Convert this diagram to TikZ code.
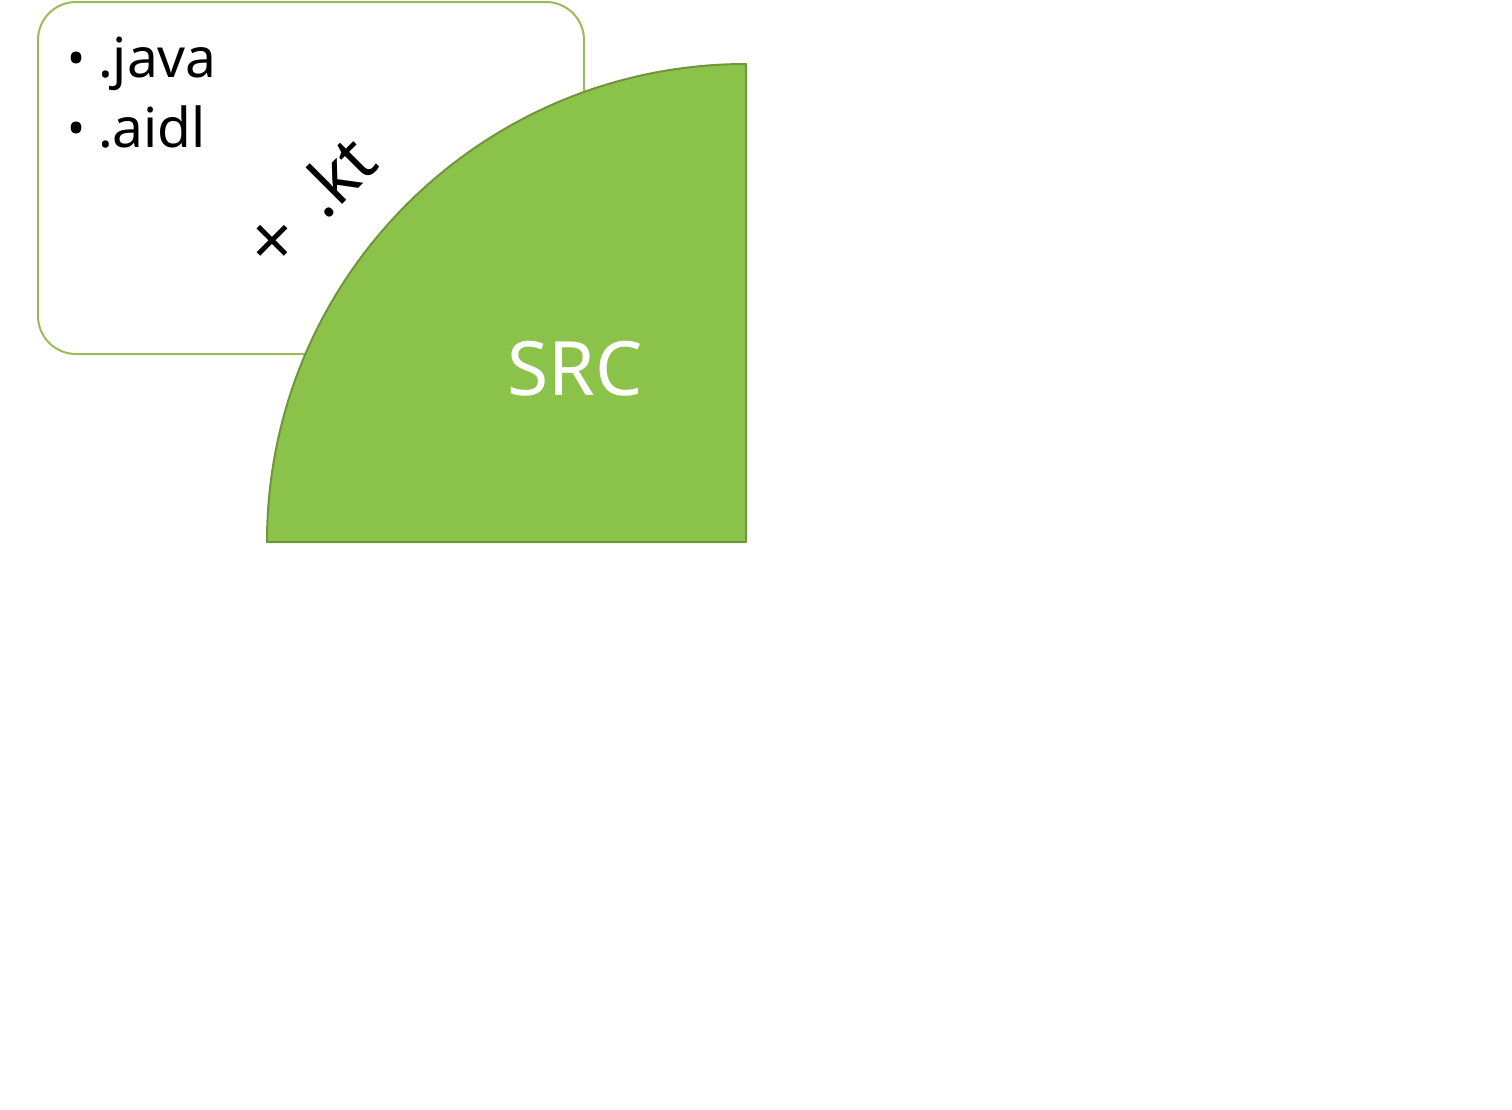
\documentclass[tikz,border=0pt]{standalone}
\usepackage{fontspec}
\setmainfont{Noto Sans}
\definecolor{boxline}{HTML}{9BBB59}
\definecolor{srcfill}{HTML}{8BC34A}
\definecolor{srcline}{HTML}{71943C}
\begin{document}
\begin{tikzpicture}[x=1pt,y=-1pt,
  listtext/.style={font=\fontsize{55}{66}\selectfont, inner sep=0pt, anchor=base west},
  bullettext/.style={font=\fontsize{48}{60}\selectfont, inner sep=0pt, anchor=base},
  tagtext/.style={font=\fontsize{68}{80}\selectfont, inner sep=0pt, rotate=45},
]
\useasboundingbox (0,0) rectangle (1512,1109);
\fill[white] (0,0) rectangle (1512,1109);
% list box
\node[draw=boxline, line width=2pt, rounded corners=38pt, minimum width=546pt, minimum height=352pt, inner sep=0pt] (box) at (311,178) {};
\node[bullettext] (b1) at (77,75) {•};
\node[listtext] (java) at (98,77) {.java};
\node[bullettext] (b2) at (77,145) {•};
\node[listtext] (aidl) at (98,147) {.aidl};
\node[tagtext, font=\fontsize{70}{80}\selectfont, rotate=-45] (cross) at (273,245) {×};
\node[tagtext, anchor=base west] (kt) at (325,222) {.kt};
% sector
\coordinate (c) at (746,542);
\coordinate (l) at (267,542);
\coordinate (t) at (746,64);
\filldraw[fill=srcfill, draw=srcline, line width=2pt, line join=round]
  (c) -- (l) .. controls (267,277.5) and (481.5,64) .. (t) -- cycle;
\node[text=white, font=\fontsize{75}{90}\selectfont, inner sep=0pt] (src) at (575,369) {SRC};
\end{tikzpicture}
\end{document}
